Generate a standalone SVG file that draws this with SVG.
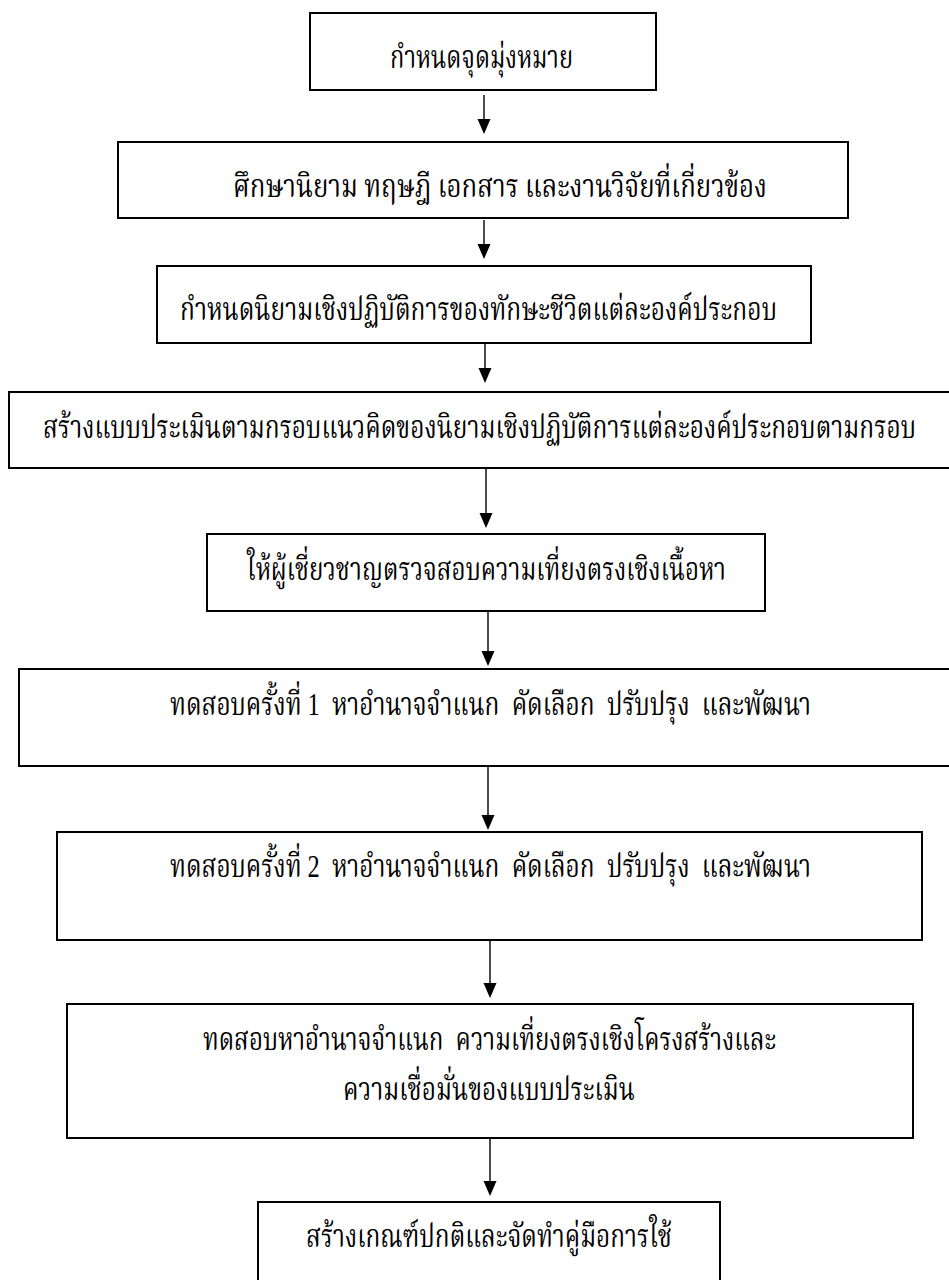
<svg xmlns="http://www.w3.org/2000/svg" width="949" height="1280" viewBox="0 0 949 1280">
<defs>
<style>
.box{fill:#fff;stroke:#000;stroke-width:2}
.t{font-family:"Liberation Serif","Noto Serif Thai","Noto Sans Thai","DejaVu Sans",serif;font-size:32px;fill:#000;text-anchor:start}
.c{stroke:#000;stroke-width:1.4;fill:none}
</style>
</defs>
<rect width="949" height="1280" fill="#fff"/>
<g id="connectors">
<line class="c" x1="484" y1="95" x2="484" y2="119" />
<path d="M477.5,119 L490.5,119 L484,134 Z" fill="#000"/>
<line class="c" x1="484" y1="220" x2="484" y2="244" />
<path d="M477.5,244 L490.5,244 L484,259 Z" fill="#000"/>
<line class="c" x1="485" y1="343" x2="485" y2="368" />
<path d="M478.5,368 L491.5,368 L485,383 Z" fill="#000"/>
<line class="c" x1="486" y1="469" x2="486" y2="513" />
<path d="M479.5,513 L492.5,513 L486,528 Z" fill="#000"/>
<line class="c" x1="488" y1="611" x2="488" y2="651" />
<path d="M481.5,651 L494.5,651 L488,666 Z" fill="#000"/>
<line class="c" x1="488" y1="766" x2="488" y2="815" />
<path d="M481.5,815 L494.5,815 L488,830 Z" fill="#000"/>
<line class="c" x1="490" y1="940" x2="490" y2="983" />
<path d="M483.5,983 L496.5,983 L490,998 Z" fill="#000"/>
<line class="c" x1="490" y1="1138" x2="490" y2="1181" />
<path d="M483.5,1181 L496.5,1181 L490,1196 Z" fill="#000"/>
</g>
<g id="n1">
<rect class="box" x="310" y="13" width="346" height="77"/>
<text class="t" transform="translate(390,68) scale(0.77,1)" x="0" y="0" textLength="237.7" lengthAdjust="spacingAndGlyphs">กำหนดจุดมุ่งหมาย</text>
</g>
<g id="n2">
<rect class="box" x="118" y="142" width="730" height="76"/>
<text class="t" transform="translate(233,197) scale(0.77,1)" x="0" y="0" textLength="693.5" lengthAdjust="spacingAndGlyphs">ศึกษานิยาม ทฤษฎี เอกสาร และงานวิจัยที่เกี่ยวข้อง</text>
</g>
<g id="n3">
<rect class="box" x="157" y="266" width="654" height="77"/>
<text class="t" transform="translate(180,320) scale(0.77,1)" x="0" y="0" textLength="775.3" lengthAdjust="spacingAndGlyphs">กำหนดนิยามเชิงปฏิบัติการของทักษะชีวิตแต่ละองค์ประกอบ</text>
</g>
<g id="n4">
<rect class="box" x="9" y="392" width="945" height="76"/>
<text class="t" transform="translate(43,438) scale(0.77,1)" x="0" y="0" textLength="1133.8" lengthAdjust="spacingAndGlyphs">สร้างแบบประเมินตามกรอบแนวคิดของนิยามเชิงปฏิบัติการแต่ละองค์ประกอบตามกรอบ</text>
</g>
<g id="n5">
<rect class="box" x="207" y="534" width="558" height="77"/>
<text class="t" transform="translate(247,580) scale(0.77,1)" x="0" y="0" textLength="622.1" lengthAdjust="spacingAndGlyphs">ให้ผู้เชี่ยวชาญตรวจสอบความเที่ยงตรงเชิงเนื้อหา</text>
</g>
<g id="n6">
<rect class="box" x="19" y="669" width="935" height="97"/>
<text class="t" transform="translate(170,715) scale(0.77,1)" x="0" y="0" textLength="832.5" lengthAdjust="spacingAndGlyphs" xml:space="preserve">ทดสอบครั้งที่ 1  หาอำนาจจำแนก  คัดเลือก  ปรับปรุง  และพัฒนา</text>
</g>
<g id="n7">
<rect class="box" x="57" y="832" width="865" height="108"/>
<text class="t" transform="translate(170,877) scale(0.77,1)" x="0" y="0" textLength="832.5" lengthAdjust="spacingAndGlyphs" xml:space="preserve">ทดสอบครั้งที่ 2  หาอำนาจจำแนก  คัดเลือก  ปรับปรุง  และพัฒนา</text>
</g>
<g id="n8">
<rect class="box" x="67" y="1004" width="846" height="134"/>
<text class="t" transform="translate(203,1050) scale(0.77,1)" x="0" y="0" textLength="744.2" lengthAdjust="spacingAndGlyphs" xml:space="preserve">ทดสอบหาอำนาจจำแนก  ความเที่ยงตรงเชิงโครงสร้างและ</text>
<text class="t" transform="translate(343,1100) scale(0.77,1)" x="0" y="0" textLength="379.2" lengthAdjust="spacingAndGlyphs">ความเชื่อมั่นของแบบประเมิน</text>
</g>
<g id="n9">
<rect class="box" x="258" y="1202" width="462" height="90"/>
<text class="t" transform="translate(306,1247) scale(0.77,1)" x="0" y="0" textLength="475.3" lengthAdjust="spacingAndGlyphs">สร้างเกณฑ์ปกติและจัดทำคู่มือการใช้</text>
</g>
</svg>
